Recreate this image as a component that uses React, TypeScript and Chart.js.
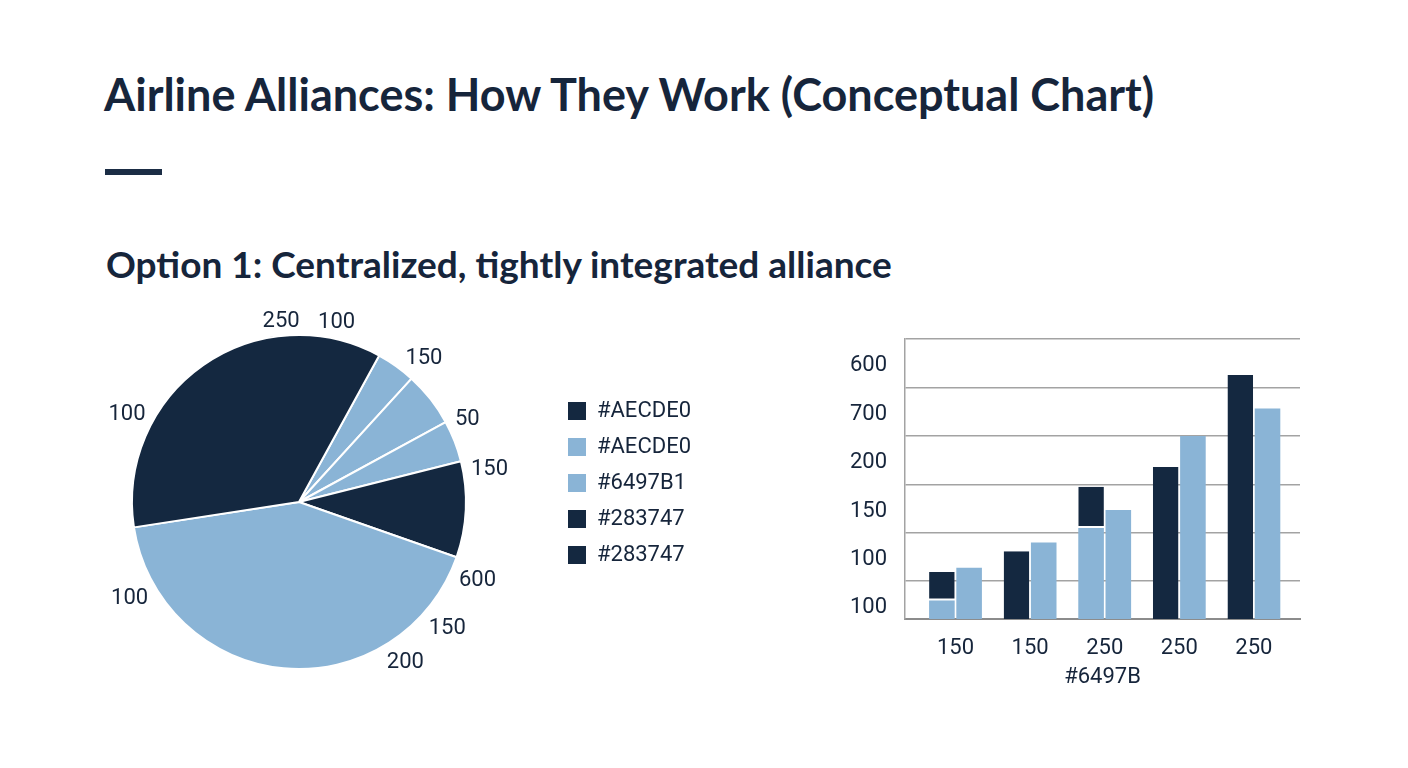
import { useEffect, useRef } from "react";
import { Chart, registerables } from "chart.js";

Chart.register(...registerables);

const TEXT = "#16253B";
const DARK = "#142840";
const LIGHT = "#8AB4D6";
const GRID = "#a3a3a3";
const FONT = "Roboto";

// Pie: slice shares, clockwise from the rotation start
const pieValues = [3.8, 5.3, 4.0, 9.3, 42.2, 35.4];
const pieColors = [LIGHT, LIGHT, LIGHT, DARK, LIGHT, DARK];
const pieRotation = 28.7;

// loose numbers printed round the pie (angle in degrees, clockwise from 12 o'clock)
const pieOuterLabels = ["250", "100", "150", "50", "150", "600", "150", "200", "100", "100"];
const pieOuterLabelAngles = [354.4, 11.7, 40.6, 63.2, 79.7, 113.1, 129.9, 146.1, 240.8, 297.6];

const legendLabels = ["#AECDE0", "#AECDE0", "#6497B1", "#283747", "#283747"];
const legendColors = [DARK, LIGHT, LIGHT, DARK, DARK];

// Bars
const barCategories = ["150", "150", "250", "250", "250"];
const barLightBase = [60, 0, 210, 0, 0];
const barDarkTop = [59, 162, 85, 336, 526];
const barLightRight = [128, 180, 247, 400, 457];
const barXTitle = "#6497B";

const yGridValues = [100, 200, 300, 400, 500, 600];
const yLabelValues = [45, 145, 245, 345, 445, 545];
const yTickLabels = ["100", "100", "150", "200", "700", "600"];

const pieOuterLabelsPlugin = {
  id: "pieOuterLabels",
  afterDatasetsDraw(chart: any) {
    const arc = chart.getDatasetMeta(0).data[0];
    if (!arc) return;
    const { x, y, outerRadius } = arc.getProps(["x", "y", "outerRadius"], true);
    const ctx = chart.ctx;
    const size = 22;
    const halfCap = size * 0.355;
    ctx.save();
    ctx.font = `${size}px ${FONT}`;
    ctx.fillStyle = TEXT;
    ctx.textAlign = "center";
    ctx.textBaseline = "alphabetic";
    pieOuterLabels.forEach((text, i) => {
      const a = ((pieOuterLabelAngles[i] - 90) * Math.PI) / 180;
      const dx = Math.cos(a);
      const dy = Math.sin(a);
      const halfW = ctx.measureText(text).width / 2;
      // keep the text box's nearest edge a fixed gap off the rim
      const d = outerRadius + 7 + Math.abs(dx) * halfW + Math.abs(dy) * halfCap;
      ctx.fillText(text, x + d * dx, y + d * dy + halfCap);
    });
    ctx.restore();
  },
};

function PieChart() {
  const canvasRef = useRef<HTMLCanvasElement>(null);

  useEffect(() => {
    if (!canvasRef.current) return;
    const chart = new Chart(canvasRef.current, {
      type: "pie",
      data: {
        labels: pieValues.map((_, i) => `slice ${i + 1}`),
        datasets: [
          {
            data: pieValues,
            backgroundColor: pieColors,
            borderColor: "#ffffff",
            borderWidth: 2,
            radius: 167,
          } as any,
        ],
      },
      options: {
        animation: false,
        responsive: true,
        maintainAspectRatio: false,
        rotation: pieRotation,
        layout: { padding: { top: 36, bottom: 32, left: 24, right: 39 } },
        plugins: {
          tooltip: { enabled: false },
          legend: {
            position: "right",
            align: "start",
            onClick: () => {},
            title: { display: true, text: "", font: { size: 10, lineHeight: 1 }, padding: { top: 40, bottom: 0 } },
            labels: {
              color: TEXT,
              font: { family: FONT, size: 22 },
              boxWidth: 18,
              boxHeight: 18,
              padding: 14,
              generateLabels: () =>
                legendLabels.map((text, i) => ({
                  text,
                  fillStyle: legendColors[i],
                  strokeStyle: legendColors[i],
                  lineWidth: 0,
                  hidden: false,
                  index: i,
                  fontColor: TEXT,
                })),
            },
          },
        },
      },
      plugins: [pieOuterLabelsPlugin],
    });
    return () => chart.destroy();
  }, []);

  return (
    <div style={{ position: "absolute", left: 20, top: 300, width: 720, height: 400 }}>
      <canvas ref={canvasRef}></canvas>
    </div>
  );
}

function BarChart() {
  const canvasRef = useRef<HTMLCanvasElement>(null);

  useEffect(() => {
    if (!canvasRef.current) return;
    const xs = barCategories.map((_, i) => i);
    const common = { clip: 0, categoryPercentage: 0.73, barPercentage: 0.94 };
    const chart = new Chart(canvasRef.current, {
      type: "bar",
      data: {
        datasets: [
          {
            ...common,
            label: "base",
            stack: "left",
            data: xs.map((x, i) => ({ x, y: barLightBase[i] })),
            backgroundColor: LIGHT,
          },
          {
            ...common,
            label: "top",
            stack: "left",
            data: xs.map((x, i) => ({ x, y: barDarkTop[i] })),
            backgroundColor: DARK,
            borderColor: "#ffffff",
            borderSkipped: false,
            borderWidth: { top: 0, left: 0, right: 0, bottom: 2 },
          },
          {
            ...common,
            label: "right",
            stack: "right",
            data: xs.map((x, i) => ({ x, y: barLightRight[i] })),
            backgroundColor: LIGHT,
          },
        ] as any,
      },
      options: {
        animation: false,
        responsive: true,
        maintainAspectRatio: false,
        layout: { padding: { top: 0, bottom: 13, left: 10, right: 20 } },
        plugins: { legend: { display: false }, tooltip: { enabled: false } },
        scales: {
          x: {
            type: "linear",
            stacked: true,
            offset: false,
            min: -0.677,
            max: 4.618,
            afterBuildTicks: (scale: any) => {
              scale.ticks = xs.map((v) => ({ value: v }));
            },
            afterFit: (scale: any) => {
              scale.height = 76;
            },
            grid: { display: false, drawTicks: false, offset: false },
            border: { display: true, color: "#8c8c8c", width: 2 },
            ticks: {
              autoSkip: false,
              padding: 16,
              color: TEXT,
              font: { family: FONT, size: 22 },
              callback: (v: any) => barCategories[v] ?? "",
            },
            title: {
              display: true,
              text: barXTitle,
              color: TEXT,
              font: { family: FONT, size: 22 },
              padding: { top: 4, bottom: 4 },
            },
          },
          y: {
            stacked: true,
            min: 22,
            max: 600,
            afterBuildTicks: (scale: any) => {
              scale.ticks = [...yLabelValues, ...yGridValues].sort((a, b) => a - b).map((v) => ({ value: v }));
            },
            afterFit: (scale: any) => {
              scale.width = 75;
            },
            grid: {
              drawTicks: false,
              lineWidth: 1.5,
              color: (ctx: any) => (ctx.tick && yGridValues.includes(ctx.tick.value) ? GRID : "rgba(0,0,0,0)"),
            },
            border: { display: true, color: GRID, width: 1.5 },
            ticks: {
              autoSkip: false,
              padding: 18,
              color: TEXT,
              font: { family: FONT, size: 22 },
              callback: (v: any) => {
                const i = yLabelValues.indexOf(v);
                return i >= 0 ? yTickLabels[i] : "";
              },
            },
          },
        },
      } as any,
    });
    return () => chart.destroy();
  }, []);

  return (
    <div style={{ position: "absolute", left: 820, top: 308, width: 500, height: 400 }}>
      <canvas ref={canvasRef}></canvas>
    </div>
  );
}

export default function App() {
  useEffect(() => {
    document.body.style.margin = "0";
  }, []);

  return (
    <div
      style={{
        position: "relative",
        width: 1408,
        height: 768,
        background: "#ffffff",
        fontFamily: "Lato, 'Noto Sans', sans-serif",
        color: TEXT,
        overflow: "hidden",
      }}
    >
      <div
        style={{
          position: "absolute",
          left: 104,
          top: 72,
          fontSize: 45,
          lineHeight: 1,
          fontWeight: 700,
          whiteSpace: "nowrap",
        }}
      >
        Airline Alliances: How They Work (Conceptual Chart)
      </div>
      <div style={{ position: "absolute", left: 105, top: 169, width: 57, height: 6, background: "#1B2D45" }} />
      <div
        style={{
          position: "absolute",
          left: 106,
          top: 245,
          fontSize: 37,
          lineHeight: 1,
          fontWeight: 700,
          whiteSpace: "nowrap",
        }}
      >
        Option 1: Centralized, tightly integrated alliance
      </div>
      <PieChart />
      <BarChart />
    </div>
  );
}
